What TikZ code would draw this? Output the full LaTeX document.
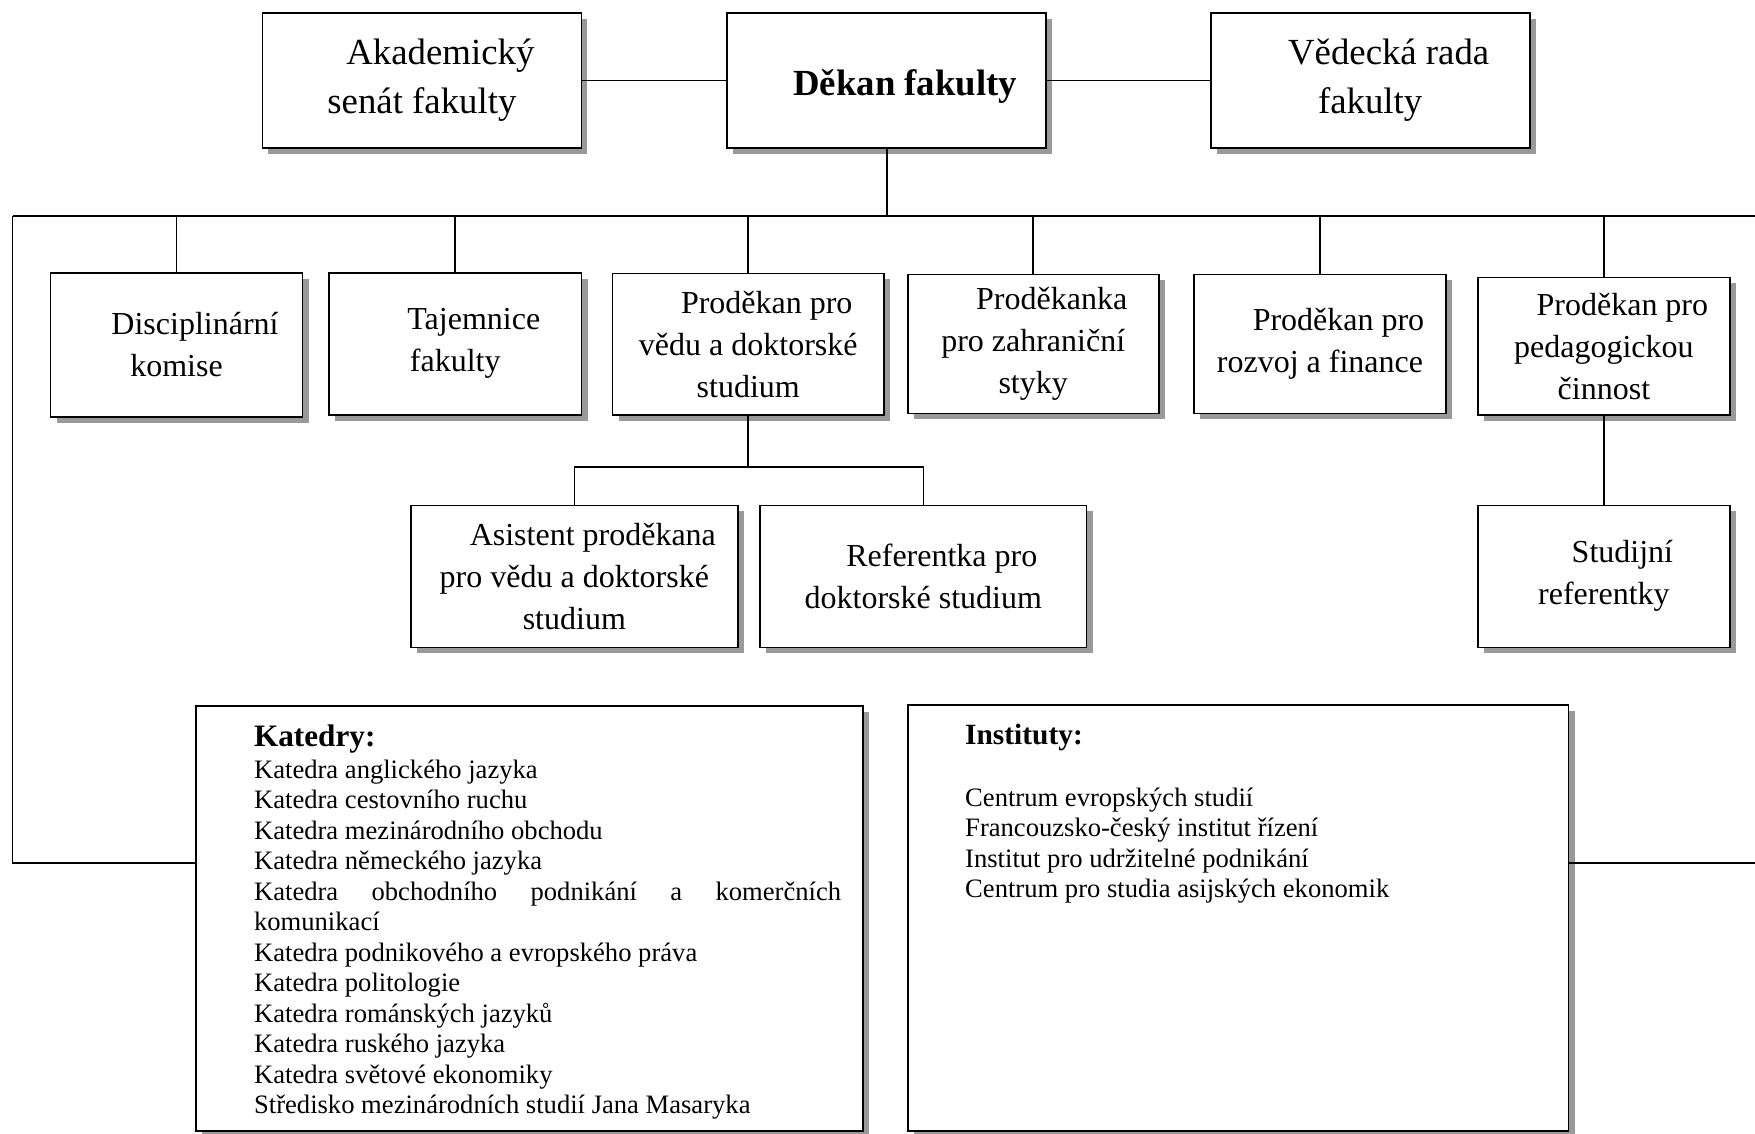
\documentclass[tikz,border=0pt]{standalone}
\usepackage{fontspec}
\setmainfont{Liberation Serif}
\usetikzlibrary{shadows}
\tikzset{
  box/.style={draw, line width=0.8pt, fill=white, inner sep=0pt, align=center,
    drop shadow={shadow xshift=3pt, shadow yshift=-3pt, fill=black!40, opacity=1, draw=none}},
  topfont/.style={font=\fontsize{18.4}{24.5}\selectfont},
  topbold/.style={font=\fontsize{18.4}{24.5}\selectfont\bfseries},
  midfont/.style={font=\fontsize{16}{21}\selectfont},
  conn/.style={line width=0.8pt},
  listtext/.style={inner sep=0pt, align=left, font=\fontsize{13.3}{15.25}\selectfont},
}
\newcommand{\ind}{\hspace*{18.5pt}}
\begin{document}
\begin{tikzpicture}[x=0.5pt,y=-0.5pt]
\useasboundingbox (0,0) rectangle (1755,1134);
\clip (0,0) rectangle (1755,1134);
\fill[white] (0,0) rectangle (1755,1134);

% top row
\node[box, topfont, minimum width=159.5pt, minimum height=67.25pt] (senat) at (421.9,80.5) {\ind Akademický\\senát fakulty};
\node[box, topbold, minimum width=159.5pt, minimum height=67.25pt] (dekan) at (886.75,80.5) {\raisebox{-3.2pt}[\height][\depth]{\ind Děkan fakulty}};
\node[box, topfont, minimum width=159.5pt, minimum height=67.25pt] (rada) at (1370.2,80.5) {\ind Vědecká rada\\fakulty};

% second row
\node[box, midfont, minimum width=126pt, minimum height=72.15pt] (disc) at (176.5,344.85) {\ind Disciplinární\\komise};
\node[box, midfont, minimum width=126.25pt, minimum height=71.15pt] (taj) at (455.25,343.85) {\ind Tajemnice\\fakulty};
\node[box, midfont, minimum width=135.75pt, minimum height=70.85pt] (vedu) at (748.25,344.15) {\ind Proděkan pro\\vědu a doktorské\\studium};
\node[box, midfont, minimum width=125.5pt, minimum height=69.5pt] (zahr) at (1033.2,343.8) {\ind Proděkanka\\pro zahraniční\\styky};
\node[box, midfont, minimum width=126pt, minimum height=69.5pt] (rozvoj) at (1320,343.8) {\ind Proděkan pro\\rozvoj a finance};
\node[box, midfont, minimum width=126.1pt, minimum height=68.85pt] (ped) at (1603.9,346.15) {\ind Proděkan pro\\pedagogickou\\činnost};

% third row
\node[box, midfont, minimum width=163.35pt, minimum height=71pt] (asist) at (574.35,576.3) {\ind Asistent proděkana\\pro vědu a doktorské\\studium};
\node[box, midfont, minimum width=163.3pt, minimum height=71pt] (ref) at (923.3,576.3) {\ind Referentka pro\\doktorské studium};
\node[box, midfont, minimum width=126.1pt, minimum height=71pt] (stud) at (1603.9,576.3) {\ind Studijní\\referentky};

% bottom boxes
\node[box, minimum width=333.5pt, minimum height=212.5pt] (kat) at (529.3,918.5) {};
\node[box, minimum width=330.4pt, minimum height=213pt] (inst) at (1238.1,918) {};

\node[inner sep=0pt, anchor=base west, font=\fontsize{15.6}{18}\selectfont\bfseries] (kathead) at (253.7,746) {Katedry:};
\node[listtext, anchor=base west] (katlist) at (253.7,1113.5) {Katedra anglického jazyka\\
Katedra cestovního ruchu\\
Katedra mezinárodního obchodu\\
Katedra německého jazyka\\
\makebox[293.5pt][s]{Katedra obchodního podnikání a komerčních}\\
komunikací\\
Katedra podnikového a evropského práva\\
Katedra politologie\\
Katedra románských jazyků\\
Katedra ruského jazyka\\
Katedra světové ekonomiky\\
Středisko mezinárodních studií Jana Masaryka};

\node[inner sep=0pt, anchor=base west, font=\fontsize{14.7}{18}\selectfont\bfseries] (insthead) at (964.8,744.5) {Instituty:};
\node[listtext, anchor=base west] (instlist) at (964.8,897.5) {Centrum evropských studií\\
Francouzsko-český institut řízení\\
Institut pro udržitelné podnikání\\
Centrum pro studia asijských ekonomik};

% helper coordinates
\coordinate (busL) at (12.6,216);
\coordinate (busR) at (1755,216);
\coordinate (subY) at (0,466.7);
\coordinate (lk) at (12.6,862.7);
\coordinate (rk) at (1755,862.7);

% connectors
\draw[conn] (senat.east) -- (dekan.west);
\draw[conn] (dekan.east) -- (rada.west);
\draw[conn] (dekan.south) -- (dekan.south |- busL);
\draw[conn] (busL) -- (busR);
\foreach \n in {disc,taj,vedu,zahr,rozvoj,ped}
  \draw[conn] (\n.north) -- (\n.north |- busL);
\draw[conn] (vedu.south) -- (vedu.south |- subY);
\draw[conn] (asist.north) |- (ref.north |- subY) -- (ref.north);
\draw[conn] (ped.south) -- (stud.north);
\draw[conn] (busL) -- (lk) -- (lk -| kat.west);
\draw[conn] (rk -| inst.east) -- (rk);
\end{tikzpicture}
\end{document}
